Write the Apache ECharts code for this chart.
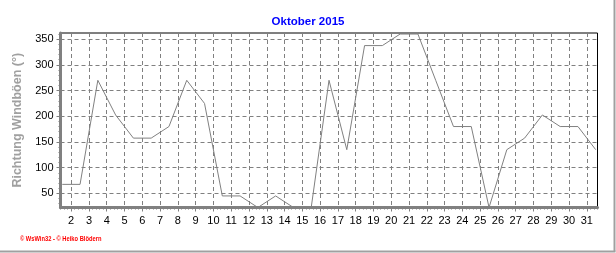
<!DOCTYPE html>
<html>
<head>
<meta charset="utf-8">
<script src="https://cdn.jsdelivr.net/npm/echarts@6/dist/echarts.min.js"></script>
<style>
html,body{margin:0;padding:0;background:#fff;}
#chart{width:616px;height:253px;}
</style>
</head>
<body>
<div id="chart"></div>
<script>
// Data: daily wind-gust direction (degrees), October 2015
const days = [1,2,3,4,5,6,7,8,9,10,11,12,13,14,15,16,17,18,19,20,21,22,23,24,25,26,27,28,29,30,31];
const direction = [67.5,67.5,270,202.5,157.5,157.5,180,270,225,45,45,22.5,45,22.5,22.5,270,135,337.5,337.5,360,360,270,180,180,22.5,135,157.5,202.5,180,180,135];
const xTickLabels = [2,3,4,5,6,7,8,9,10,11,12,13,14,15,16,17,18,19,20,21,22,23,24,25,26,27,28,29,30,31];
const yTickLabels = [50,100,150,200,250,300,350];
const titleText = 'Oktober 2015';
const yAxisTitle = 'Richtung Windböen (°)';
const footerText = '© WsWin32 - © Heiko Blödern';

const X_MIN = 1.4, X_MAX = 31.6, Y_MIN = 22.5, Y_MAX = 362;
const xMinor = []; for (let v = 1.4; v <= 31.6 + 1e-9; v += 0.2) xMinor.push(Math.round(v * 10) / 10);
const yMinor = []; for (let v = 30; v <= 360; v += 10) yMinor.push(v);

const seriesData = days.map((d, i) => [d + 0.5, direction[i]]);
const font = 'Liberation Sans, Arial, sans-serif';
const gray = '#808080';

const chart = echarts.init(document.getElementById('chart'), null, {renderer: 'canvas'});
chart.setOption({
  animation: false,
  backgroundColor: '#ffffff',
  title: {
    text: titleText, left: 'center', top: 11,
    textStyle: {color: '#0000ff', fontWeight: 'bold', fontSize: 11.5, fontFamily: font}
  },
  grid: {left: 60.5, right: 18.5, top: 33, bottom: 45.5, show: true, borderColor: '#000', borderWidth: 1, backgroundColor: '#fff'},
  xAxis: [{
    type: 'value', min: X_MIN, max: X_MAX, position: 'bottom',
    axisLine: {show: true, lineStyle: {color: gray, width: 3}},
    axisTick: {show: true, customValues: xTickLabels, length: 4, lineStyle: {color: gray}},
    axisLabel: {show: true, customValues: xTickLabels, color: '#000', fontSize: 11, fontFamily: font, margin: 8},
    splitLine: {show: true, lineStyle: {color: gray, type: [4, 3], width: 1}}
  }, {
    type: 'value', min: X_MIN, max: X_MAX, position: 'bottom',
    axisLine: {show: false},
    axisTick: {show: true, customValues: xMinor, length: 2, lineStyle: {color: gray}},
    axisLabel: {show: false},
    splitLine: {show: false}
  }],
  yAxis: [{
    type: 'value', min: Y_MIN, max: Y_MAX, position: 'left',
    name: yAxisTitle, nameLocation: 'middle', nameGap: 27, nameRotate: 90,
    nameTextStyle: {color: '#a0a0a0', fontWeight: 'bold', fontSize: 12.5, fontFamily: font},
    axisLine: {show: true, lineStyle: {color: gray, width: 3}},
    axisTick: {show: true, customValues: yTickLabels, length: 4, lineStyle: {color: gray}},
    axisLabel: {show: true, customValues: yTickLabels, color: '#000', fontSize: 11, fontFamily: font, margin: 7},
    splitLine: {show: true, lineStyle: {color: gray, type: [4, 3], width: 1}}
  }, {
    type: 'value', min: Y_MIN, max: Y_MAX, position: 'left',
    axisLine: {show: false},
    axisTick: {show: true, customValues: yMinor, length: 2, lineStyle: {color: gray}},
    axisLabel: {show: false},
    splitLine: {show: false}
  }],
  series: [{
    type: 'line', xAxisIndex: 0, yAxisIndex: 0, data: seriesData,
    showSymbol: false, symbol: 'none', clip: true,
    lineStyle: {color: gray, width: 1}, z: 1
  }],
  graphic: [
    {type: 'text', x: 20, y: 235, scaleX: 0.72, style: {text: footerText, fill: '#ff0000', font: 'bold 8px ' + font}},
    {type: 'line', shape: {x1: 614.5, y1: 0, x2: 614.5, y2: 251.5}, style: {stroke: '#a0a0a0', lineWidth: 2}},
    {type: 'line', shape: {x1: 0, y1: 251.5, x2: 615.5, y2: 251.5}, style: {stroke: '#a0a0a0', lineWidth: 2}}
  ]
});
</script>
</body>
</html>
